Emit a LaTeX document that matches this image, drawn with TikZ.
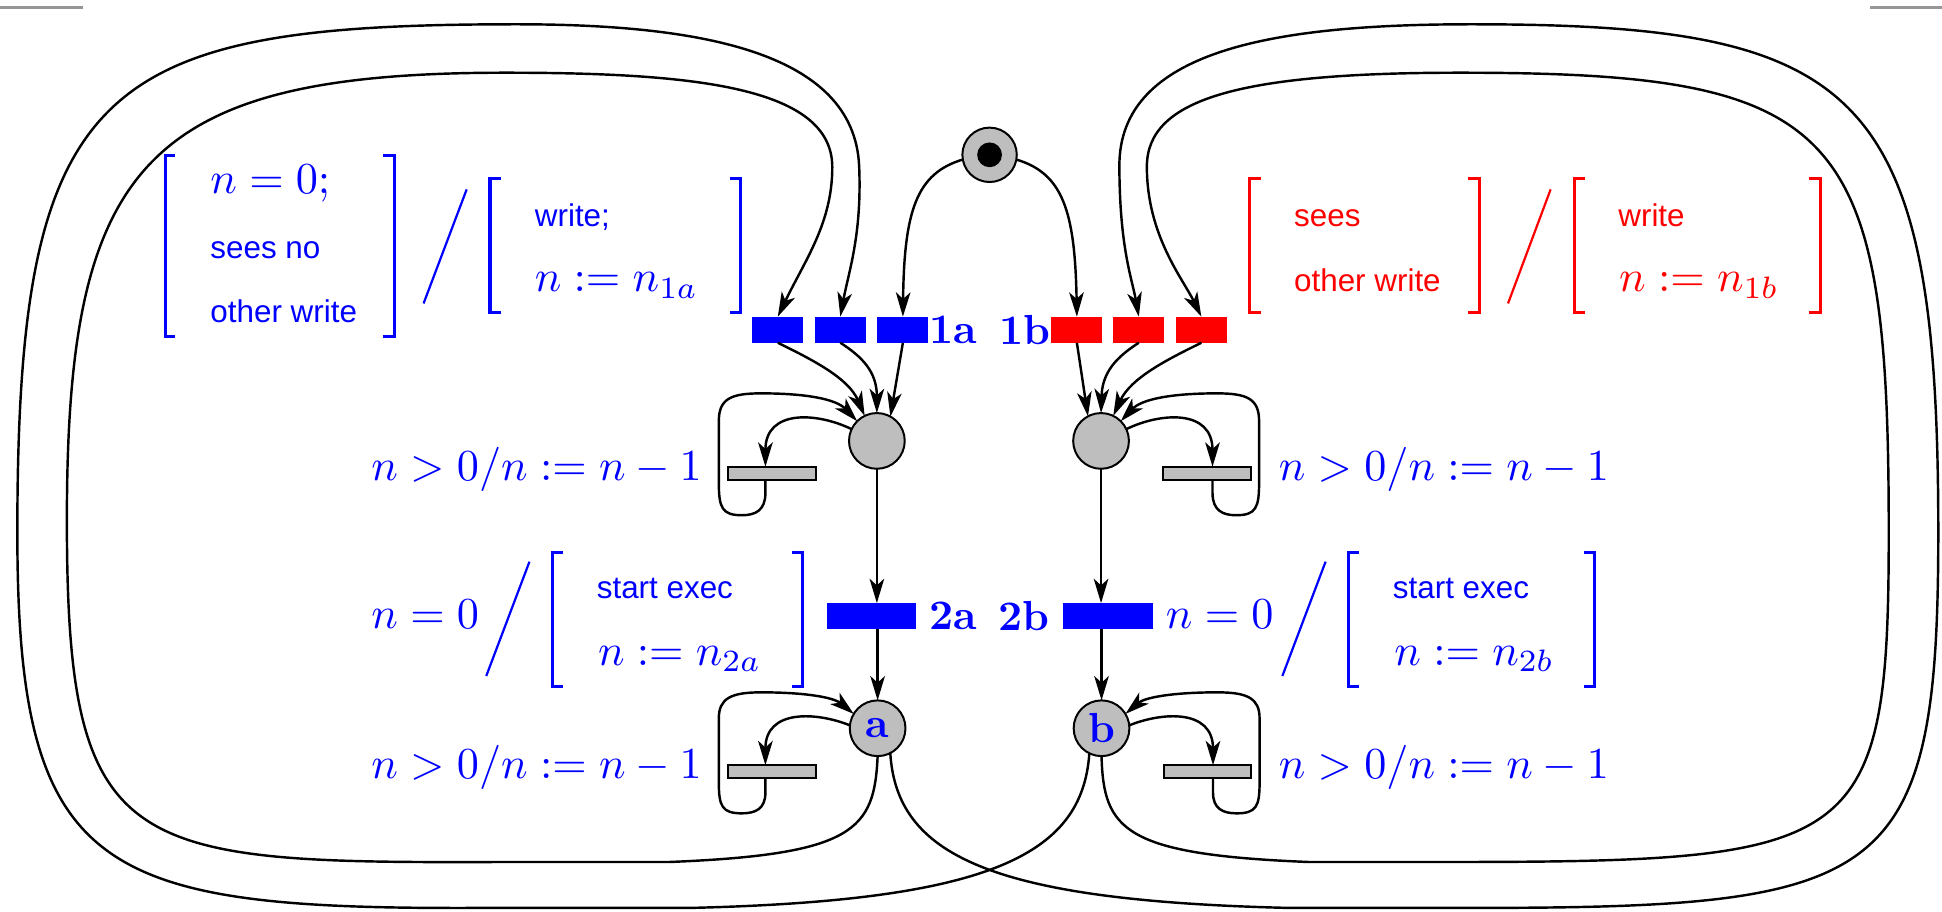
\documentclass[tikz,border=0pt]{standalone}
\usepackage{fontspec}
\newfontfamily\hv{Liberation Sans}
\usetikzlibrary{arrows.meta,calc}
\definecolor{pg}{RGB}{190,190,190}
\definecolor{lg}{RGB}{150,150,150}
\begin{document}
\begin{tikzpicture}[x=0.28pt,y=-0.28pt,line width=0.5pt,
  place/.style={circle,draw=black,fill=pg,line width=0.45pt,minimum size=12.6pt,inner sep=0pt,outer sep=0pt},
  trb/.style={fill=blue,minimum width=11.5pt,minimum height=5.9pt,inner sep=0pt,outer sep=0pt},
  trr/.style={fill=red,minimum width=11.5pt,minimum height=5.9pt,inner sep=0pt,outer sep=0pt},
  trw/.style={fill=blue,minimum width=20.2pt,minimum height=5.8pt,inner sep=0pt,outer sep=0pt},
  bar/.style={draw=black,fill=pg,line width=0.45pt,minimum width=19.8pt,minimum height=2.9pt,inner sep=0pt,outer sep=0pt},
  arr/.style={-{Stealth[length=5.5pt,width=3.3pt,inset=1.5pt]}},
  conn/.style={line width=0.55pt},
  brk/.style={line width=0.7pt},
  slash/.style={line width=0.5pt},
  lab/.style={inner sep=0pt,anchor=base west},
  mth/.style={lab,text=blue},
  sans/.style={lab,font=\hv\fontsize{7.1}{8}\selectfont},
  bold/.style={font=\fontsize{9.5}{10}\selectfont\bfseries,text=blue,inner sep=0pt}
]
\useasboundingbox (0,0) rectangle (1568,736);

% page marks
\draw[lg,line width=0.6pt] (0,6) -- (67,6);
\draw[lg,line width=0.6pt] (1510,6) -- (1568,6);

% places
\node[place,minimum size=12.3pt] (p0) at (799,125) {};
\fill (p0.center) circle (2.8pt);
\node[place] (pL) at (708,356) {};
\node[place] (pR) at (889,356) {};
\node[place,text=blue,font=\fontsize{9.5}{10}\selectfont\bfseries] (pa) at (708.6,588) {a};
\node[place,text=blue,font=\fontsize{9.5}{10}\selectfont\bfseries] (pb) at (889.4,588) {b};

% transitions
\node[trb] (t1a1) at (628,266.2) {};
\node[trb] (t1a2) at (678.5,266.2) {};
\node[trb] (t1a3) at (729,266.2) {};
\node[trr] (t1b1) at (869.5,266.2) {};
\node[trr] (t1b2) at (919.5,266.2) {};
\node[trr] (t1b3) at (970,266.2) {};
\node[trw] (t2a) at (703.7,497.3) {};
\node[trw] (t2b) at (894.7,497.3) {};
\node[bar] (barTL) at (623.3,382) {};
\node[bar] (barTR) at (974.7,382) {};
\node[bar] (barBL) at (623.3,623) {};
\node[bar] (barBR) at (975,623) {};

\node[bold,anchor=west] (l1a) at (t1a3.east) {1a};
\node[bold,anchor=east] (l1b) at (t1b1.west) {1b};
\node[bold,anchor=west,xshift=2.8pt] (l2a) at (t2a.east) {2a};
\node[bold,anchor=east,xshift=-3pt] (l2b) at (t2b.west) {2b};

% initial arcs
\draw[conn,arr] (p0.190) .. controls (740,140) and (730,170) .. (t1a3.north);
\draw[conn,arr] (p0.-10) .. controls (858,140) and (868,170) .. (t1b1.north);

% transitions to middle places
\draw[conn,arr] (t1a1.south) .. controls (655,290) and (685,305) .. (pL.116);
\draw[conn,arr] (t1a2.south) .. controls (696,288) and (708,300) .. (pL.north);
\draw[conn,arr] (t1a3.south) -- (pL.61);
\draw[conn,arr] (t1b1.south) -- (pR.118);
\draw[conn,arr] (t1b2.south) .. controls (902,288) and (890,300) .. (pR.north);
\draw[conn,arr] (t1b3.south) .. controls (943,290) and (913,305) .. (pR.64);

% vertical chains
\draw[conn,arr] (pL.south) -- (pL.south |- t2a.north);
\draw[conn,arr] (pa.north |- t2a.south) -- (pa.north);
\draw[conn,arr] (pR.south) -- (pR.south |- t2b.north);
\draw[conn,arr] (pb.north |- t2b.south) -- (pb.north);

% self loops through gray bars
\draw[conn,arr] (pL.155) .. controls (660,333) and (618,330) .. ($(barTL.north)+(-5.3,0)$);
\draw[conn,arr] ($(barTL.south)+(-5.3,0)$) -- (618,398) .. controls (618,412) and (610,416) .. (599,416)
  .. controls (583,416) and (580.4,410) .. (580.4,390) -- (580.4,340)
  .. controls (580.4,322) and (590,317.6) .. (614.5,317.6) .. controls (650,317.6) and (675,322) .. (pL.135);
\draw[conn,arr] (pa.174) .. controls (660,575) and (618,572) .. ($(barBL.north)+(-5.3,0)$);
\draw[conn,arr] ($(barBL.south)+(-5.3,0)$) -- (618,640) .. controls (618,653) and (610,656.7) .. (599,656.7)
  .. controls (583,656.7) and (580.4,651) .. (580.4,632) -- (580.4,580)
  .. controls (580.4,564) and (590,559) .. (614.5,559) .. controls (650,559) and (673,563) .. (pa.149);
\draw[conn,arr] (pR.25) .. controls (937,333) and (979,330) .. ($(barTR.north)+(4.3,0)$);
\draw[conn,arr] ($(barTR.south)+(4.3,0)$) -- (979,398) .. controls (979,412) and (987,416) .. (998,416)
  .. controls (1014,416) and (1016.6,410) .. (1016.6,390) -- (1016.6,340)
  .. controls (1016.6,322) and (1007,317.6) .. (982.5,317.6) .. controls (947,317.6) and (922,322) .. (pR.45);
\draw[conn,arr] (pb.6) .. controls (938,575) and (979.4,572) .. ($(barBR.north)+(4.4,0)$);
\draw[conn,arr] ($(barBR.south)+(4.4,0)$) -- (979.4,640) .. controls (979.4,653) and (987.4,656.7) .. (998.4,656.7)
  .. controls (1014.4,656.7) and (1017,651) .. (1017,632) -- (1017,580)
  .. controls (1017,564) and (1007.4,559) .. (983,559) .. controls (947.4,559) and (924.4,563) .. (pb.31);

% big outer loops
\draw[conn,arr] (pb.-116) .. controls (874,690) and (800,727) .. (560,733) -- (400,733)
  .. controls (80,735) and (14,710) .. (14,430) .. controls (14,67) and (79,19.6) .. (417,19.6)
  .. controls (560,19.6) and (690,40) .. (693.7,134.6)
  .. controls (696,190) and (685,220) .. (t1a2.north);
\draw[conn,arr] (pa.-90) .. controls (706,670) and (690,690) .. (540,696) -- (400,696)
  .. controls (100,697) and (54,690) .. (54,420) .. controls (54,134.7) and (114.7,58.7) .. (408,58.7)
  .. controls (560,58.7) and (672,70) .. (672,135)
  .. controls (672,180) and (650,210) .. (t1a1.north);
\draw[conn,arr] (pa.-63) .. controls (724,690) and (798,727) .. (1038,733) -- (1150,733)
  .. controls (1520,734) and (1565,725) .. (1565,430) .. controls (1565,70.5) and (1504,19.6) .. (1188,19.6)
  .. controls (1030,19.6) and (903,40) .. (903.8,134.6)
  .. controls (904,200) and (914,225) .. (t1b2.north);
\draw[conn,arr] (pb.-90) .. controls (891,670) and (907,690) .. (1057,696) -- (1150,696)
  .. controls (1500,696) and (1525,692) .. (1525,430) .. controls (1525,101) and (1488.5,58.7) .. (1178.6,58.7)
  .. controls (1000,58.7) and (926,80) .. (926,134.6)
  .. controls (926,190) and (955,225) .. (t1b3.north);

% labels
\node[mth] (g1) at (299,387.6) {$n>0/n:=n-1$};
\node[mth] (g2) at (299,628.4) {$n>0/n:=n-1$};
\node[mth] (g3) at (1031.6,387.6) {$n>0/n:=n-1$};
\node[mth] (g4) at (1031.6,628.4) {$n>0/n:=n-1$};
\node[mth] (c1) at (299,507.3) {$n=0$};
\node[mth] (c2) at (940.5,507.3) {$n=0$};

\node[mth] (l1) at (169,156) {$n=0;$};
\node[sans,text=blue] (l2) at (169,208.6) {sees no};
\node[sans,text=blue] (l3) at (169,260.5) {other write};
\node[sans,text=blue] (l4) at (431,182.5) {write;};
\node[mth] (l5) at (431,235.5) {$n:=n_{1a}$};

\node[sans,text=red] (r1) at (1044,182.5) {sees};
\node[sans,text=red] (r2) at (1044,235.5) {other write};
\node[sans,text=red] (r3) at (1305.8,182.5) {write};
\node[mth,text=red] (r4) at (1306.5,235.5) {$n:=n_{1b}$};

\node[sans,text=blue] (s1) at (481,483) {start exec};
\node[mth] (s2) at (482,537) {$n:=n_{2a}$};
\node[sans,text=blue] (s3) at (1123.8,483) {start exec};
\node[mth] (s4) at (1125,537) {$n:=n_{2b}$};

% brackets and slashes
\draw[brk,blue] (141,125.5) -- (133.3,125.5) -- (133.3,271.5) -- (141,271.5);
\draw[brk,blue] (309.6,125.5) -- (318.5,125.5) -- (318.5,271.5) -- (309.6,271.5);
\draw[slash,blue] (342,245) -- (376.8,152.9);
\draw[brk,blue] (404.6,144) -- (395.6,144) -- (395.6,252.5) -- (404.6,252.5);
\draw[brk,blue] (589.6,144) -- (598,144) -- (598,252.5) -- (589.6,252.5);

\draw[brk,red] (1017.8,144) -- (1008.8,144) -- (1008.8,252.5) -- (1017.8,252.5);
\draw[brk,red] (1185.5,144) -- (1194.2,144) -- (1194.2,252.5) -- (1185.5,252.5);
\draw[slash,red] (1217.6,245) -- (1252,152.9);
\draw[brk,red] (1279.7,144) -- (1271,144) -- (1271,252.5) -- (1279.7,252.5);
\draw[brk,red] (1461,144) -- (1469.8,144) -- (1469.8,252.5) -- (1461,252.5);

\draw[slash,blue] (392.6,545.8) -- (427.5,453.5);
\draw[brk,blue] (454.3,446.3) -- (446,446.3) -- (446,554.5) -- (454.3,554.5);
\draw[brk,blue] (639.2,446.3) -- (647.6,446.3) -- (647.6,554.5) -- (639.2,554.5);

\draw[slash,blue] (1035.4,545.8) -- (1070.3,453.5);
\draw[brk,blue] (1097.5,446.3) -- (1088.8,446.3) -- (1088.8,554.5) -- (1097.5,554.5);
\draw[brk,blue] (1278.9,446.3) -- (1287.5,446.3) -- (1287.5,554.5) -- (1278.9,554.5);
\end{tikzpicture}
\end{document}
